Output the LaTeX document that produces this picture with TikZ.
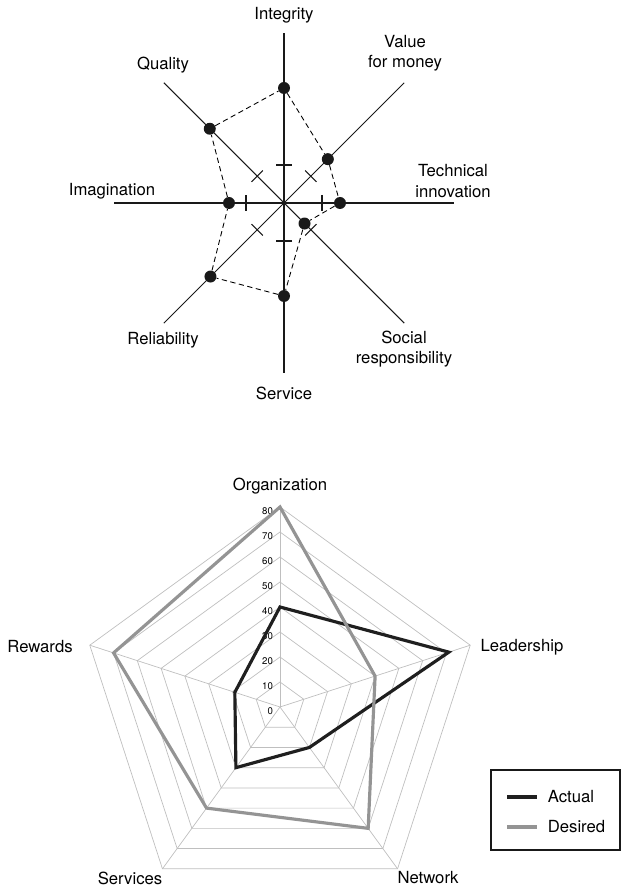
\documentclass[tikz,border=0pt]{standalone}
\usepackage{fontspec}
\setmainfont{TeX Gyre Heros}
\usetikzlibrary{positioning,calc}

\begin{document}
\begin{tikzpicture}
[x=0.02cm,y=0.02cm,
   lbl/.style={font=\fontsize{9.5}{11.5}\selectfont,align=center,inner sep=2pt},
   num/.style={font=\fontsize{5.5}{6}\selectfont,anchor=east,inner sep=1pt},
   dot/.style={circle,fill=black!90,inner sep=0pt,minimum size=0.24cm},
   axis/.style={draw=black!90,line width=0.6pt},
   web/.style={draw=black!25,line width=0.4pt},
   actual/.style={draw=black!88,line width=1.8pt,line join=miter},
   desired/.style={draw=black!42,line width=1.8pt,line join=miter}]
\useasboundingbox (0,0) rectangle (621,887);

% brand attribute star
\begin{scope}[shift={(284,684)}]
\coordinate (c) at (0,0);
\foreach \n/\a/\v in {int/90/115,val/45/62,tec/0/56,soc/-45/29,ser/-90/93,rel/-135/104,ima/180/55,qua/135/105}{
  \coordinate (e\n) at (\a:170);
  \draw[axis] (c) -- (e\n);
  \coordinate (t\n) at (\a:38);
  \draw[axis] (t\n) ++(\a+90:8) -- ++(\a-90:16);
  \node[dot] (d\n) at (\a:\v) {};
}
\draw[dashed,dash pattern=on 3pt off 2pt,line width=0.5pt]
  (dint) -- (dval) -- (dtec) -- (dsoc) -- (dser) -- (drel) -- (dima) -- (dqua) -- (dint);
\node[lbl] (lint) at (0,188) {Integrity};
\node[lbl] (lval) at (121,150) {Value\\for money};
\node[lbl] (ltec) at (169,22) {Technical\\innovation};
\node[lbl] (lsoc) at (120,-146) {Social\\responsibility};
\node[lbl] (lser) at (0,-190) {Service};
\node[lbl] (lrel) at (-121,-137) {Reliability};
\node[lbl] (lima) at (-172,12) {Imagination};
\node[lbl] (lqua) at (-121,138) {Quality};
\end{scope}

% pentagon radar
\begin{scope}[shift={(280,180)}]
\coordinate (o) at (0,0);
\foreach \k in {1,...,8}{
  \pgfmathsetmacro{\r}{\k*25}
  \draw[web] (90:\r) -- (18:\r) -- (-54:\r) -- (-126:\r) -- (162:\r) -- cycle;
}
\foreach \k in {0,...,8}{
  \pgfmathtruncatemacro{\t}{\k*10}
  \node[num] (n\k) at (-5,\k*25-4) {\t};
}
\foreach \n/\a/\u/\w in {org/90/40/80,lea/18/71/40,net/-54/20/60,ser/-126/30/50,rew/162/19/70}{
  \coordinate (s\n) at (\a:200);
  \draw[web] (o) -- (s\n);
  \coordinate (a\n) at (\a:\u*2.5);
  \coordinate (w\n) at (\a:\w*2.5);
}
\draw[actual] (aorg) -- (alea) -- (anet) -- (aser) -- (arew) -- cycle;
\draw[desired] (worg) -- (wlea) -- (wnet) -- (wser) -- (wrew) -- cycle;
\node[lbl] (lorg) at (0,221) {Organization};
\node[lbl] (llea) at (242,60) {Leadership};
\node[lbl] (lnet) at (148,-171) {Network};
\node[lbl] (lser2) at (-150,-171) {Services};
\node[lbl] (lrew) at (-240,60) {Rewards};
\end{scope}

% key
\node[draw=black!90,line width=0.6pt,inner sep=0pt,minimum width=2.58cm,minimum height=1.6cm] (key) at (555.5,77) {};
\coordinate (ka1) at (507,90);
\coordinate (ka2) at (537,90);
\coordinate (kd1) at (507,60);
\coordinate (kd2) at (537,60);
\draw[actual] (ka1) -- (ka2);
\draw[desired] (kd1) -- (kd2);
\node[lbl,right=0.14cm of ka2] (kact) {Actual};
\node[lbl,right=0.14cm of kd2] (kdes) {Desired};
\end{tikzpicture}
\end{document}
